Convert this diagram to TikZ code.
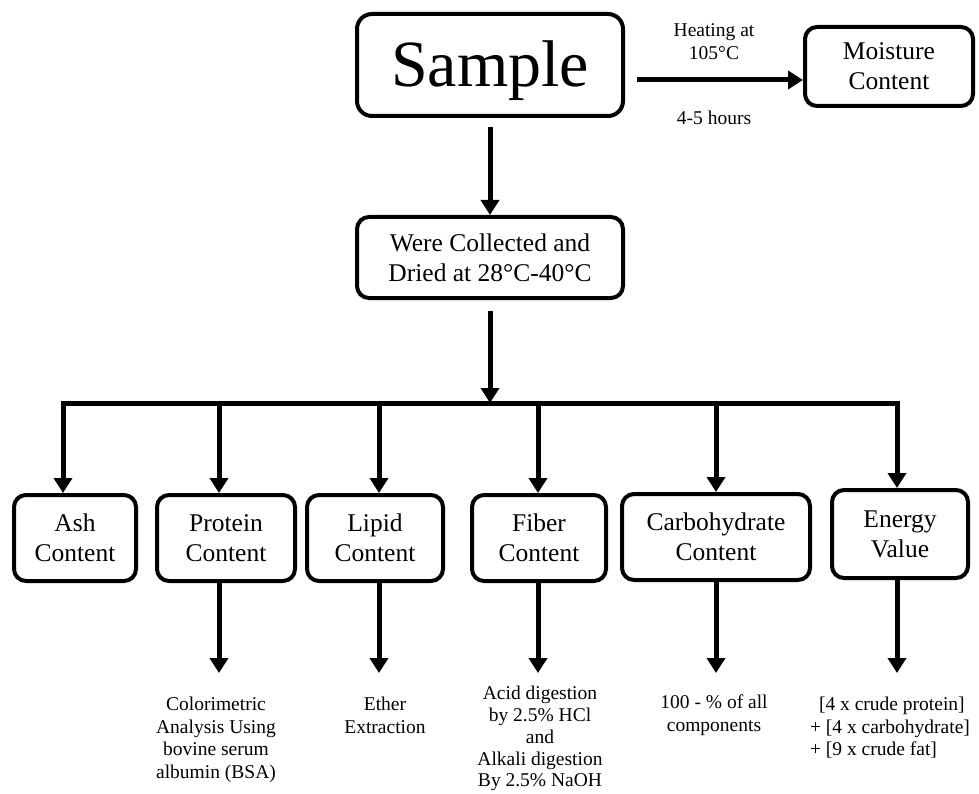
\documentclass[tikz,border=0pt]{standalone}
\usepackage{fontspec}
\setmainfont{Liberation Serif}
\usetikzlibrary{arrows.meta,positioning,calc}
\tikzset{
  stage/.style ={draw, line width=4pt, rounded corners=12pt, align=center, inner sep=0pt,
                 font=\fontsize{25.5}{30}\selectfont},
  note/.style  ={align=center, inner sep=0pt, font=\fontsize{19.5}{22.5}\selectfont},
  arrow/.style ={-{Triangle[length=15pt,width=18pt]}, line width=5pt},
  bus/.style   ={line width=5pt, line cap=rect},
}

\begin{document}
\begin{tikzpicture}[x=1pt,y=-1pt]
  \useasboundingbox (0,0) rectangle (979,794);
  % top row
  \node[stage, minimum width=266pt, minimum height=102pt, rounded corners=15pt,
        font=\fontsize{66}{70}\selectfont, text height=46pt, text depth=2pt] (sample) at (490,65) {Sample};
  \node[stage, minimum width=168pt, minimum height=79pt] (moist) at (889,66.5) {Moisture\\Content};
  \node[stage, minimum width=266pt, minimum height=81pt] (dried) at (490,257.5) {Were Collected and\\Dried at 28°C-40°C};
  \coordinate (hA) at (625,80);
  \draw[arrow, shorten <=12pt] (hA) -- node[note, above=18pt] {Heating at\\105°C}
        node[note, below=28pt] {4-5 hours} (hA -| moist.west);
  \draw[arrow, shorten <=9pt] (sample.south) -- (dried.north);

  % analyses
  \node[stage, minimum width=122pt, minimum height=86pt] (ash)  at (75,538)  {Ash\\Content};
  \node[stage, minimum width=138pt, minimum height=86pt] (prot) at (226,538) {Protein\\Content};
  \node[stage, minimum width=136pt, minimum height=86pt] (lip)  at (375,538) {Lipid\\Content};
  \node[stage, minimum width=134pt, minimum height=86pt] (fib)  at (539,538) {Fiber\\Content};
  \node[stage, minimum width=188pt, minimum height=86pt] (carb) at (716,537) {Carbohydrate\\Content};
  \node[stage, minimum width=136pt, minimum height=88pt] (ener) at (900,534) {Energy\\Value};

  % branch bar
  \coordinate (dAsh)  at (63,403);
  \coordinate (dProt) at (219,403);
  \coordinate (dLip)  at (379,403);
  \coordinate (dFib)  at (538,403);
  \coordinate (dCarb) at (716,403);
  \coordinate (dEner) at (897,403);
  \draw[arrow, shorten <=11pt] (dried.south) -- (dried.south |- dAsh);
  \draw[bus] (dAsh) -- (dEner);
  \foreach \d/\b in {dAsh/ash,dProt/prot,dLip/lip,dFib/fib,dCarb/carb,dEner/ener}
    \draw[arrow] (\d) -- (\d |- \b.north);

  % methods
  \coordinate (tail) at (0,673);
  \foreach \d/\b in {dProt/prot,dLip/lip,dFib/fib,dCarb/carb,dEner/ener}
    \draw[arrow] (\d |- \b.south) -- (\d |- tail);
  \node[note, anchor=north] (protTxt) at (216,697) {Colorimetric\\Analysis Using\\bovine serum\\albumin (BSA)};
  \node[note, anchor=north] (lipTxt)  at (385,697) {Ether\\Extraction};
  \node[note, anchor=north, font=\fontsize{19.5}{21.8}\selectfont] (fibTxt) at (540,686)
       {Acid digestion\\by 2.5\% HCl\\and\\Alkali digestion\\By 2.5\% NaOH};
  \node[note, anchor=north] (carbTxt) at (714,695) {100 - \% of all\\components};
  \node[note, anchor=north, align=left] (enerTxt) at (890,697)
       {\hspace{9pt}[4 x crude protein]\\+ [4 x carbohydrate]\\+ [9 x crude fat]};
\end{tikzpicture}
\end{document}
